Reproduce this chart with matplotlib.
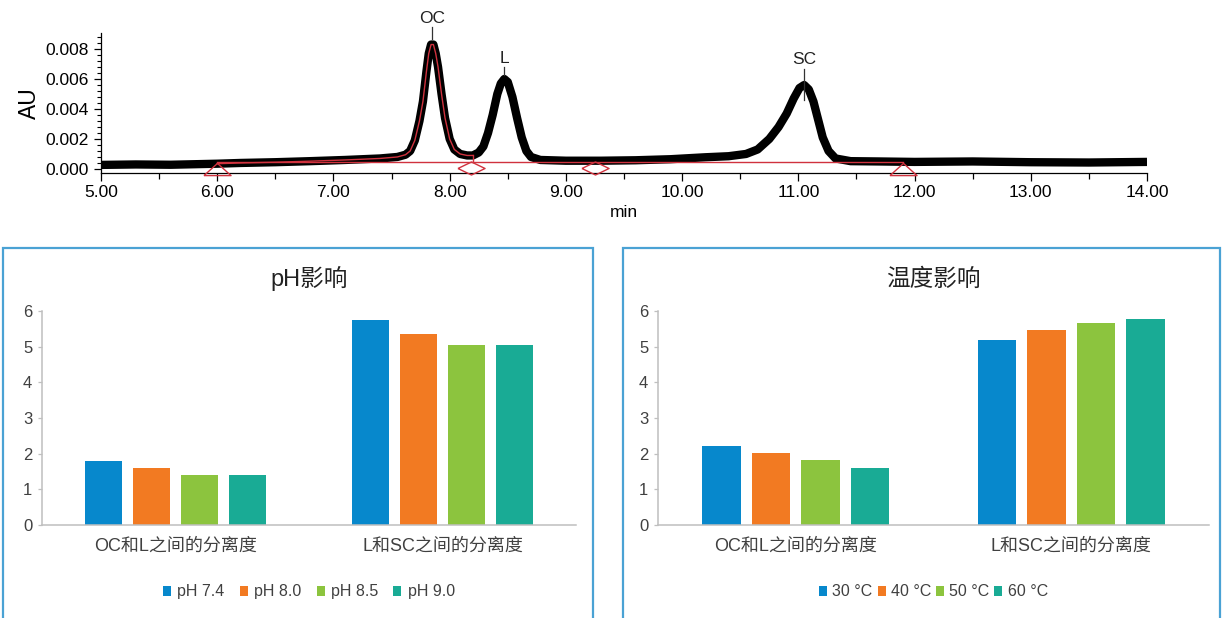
import matplotlib
matplotlib.use("Agg")
import matplotlib.pyplot as plt
import numpy as np
from matplotlib.patches import Rectangle
from matplotlib.path import Path
from matplotlib.ticker import MultipleLocator, FormatStrFormatter

plt.rcParams['font.family'] = ['Liberation Sans', 'Noto Sans CJK SC']

# ---- chromatogram ----
t_min = [5.00, 5.30, 5.60, 6.00, 6.20, 6.50, 6.80, 7.10, 7.40, 7.55, 7.62, 7.66,
         7.70, 7.74, 7.77, 7.80, 7.82, 7.84, 7.86, 7.88, 7.90, 7.93, 7.96, 8.00, 8.04,
         8.09, 8.15, 8.20, 8.25, 8.29, 8.33, 8.37, 8.41, 8.44, 8.47, 8.50, 8.54,
         8.58, 8.62, 8.66, 8.70, 8.78, 9.00, 9.30, 9.60, 9.90, 10.20, 10.40, 10.55,
         10.65, 10.75, 10.83, 10.90, 10.96, 11.01, 11.05, 11.09, 11.13, 11.17, 11.21,
         11.26, 11.32, 11.45, 11.70, 12.00, 12.50, 13.00, 13.50, 14.00]
au = [0.00027, 0.00030, 0.00028, 0.00035, 0.00040, 0.00045, 0.00052, 0.00060, 0.00070,
      0.00080, 0.00095, 0.0012, 0.0019, 0.0032, 0.0045, 0.0065, 0.0077, 0.0083, 0.0083,
      0.0077, 0.0068, 0.0050, 0.0034, 0.0020, 0.0013, 0.0010, 0.0009, 0.0009, 0.0011,
      0.0015, 0.0024, 0.0036, 0.0050, 0.0057, 0.0060, 0.0058, 0.0048, 0.0034, 0.0021,
      0.0012, 0.0008, 0.0006, 0.00055, 0.00055, 0.00058, 0.00065, 0.00078, 0.00085,
      0.0010, 0.0013, 0.0020, 0.0028, 0.0037, 0.0047, 0.0054, 0.0056, 0.0053, 0.0045,
      0.0033, 0.0021, 0.0012, 0.0007, 0.00052, 0.00050, 0.00047, 0.00050, 0.00045,
      0.00043, 0.00047]

peak_names = ['OC', 'L', 'SC']
peak_times = [7.85, 8.47, 11.05]
peak_tick_top = [0.00947, 0.0068, 0.0067]
peak_tick_bottom = [0.00867, 0.0063, 0.0046]

integ_start, integ_end = 6.00, 8.20
baseline_au = 0.00045
tri_times = [6.00, 11.90]
dia_times = [8.18, 9.25]

# ---- resolution bar charts ----
categories = ['OC和L之间的分离度', 'L和SC之间的分离度']
ph_labels = ['pH 7.4', 'pH 8.0', 'pH 8.5', 'pH 9.0']
ph_values = [[1.80, 5.76], [1.60, 5.35], [1.40, 5.06], [1.40, 5.06]]
temp_labels = ['30 °C', '40 °C', '50 °C', '60 °C']
temp_values = [[2.21, 5.18], [2.01, 5.47], [1.81, 5.67], [1.60, 5.77]]

bar_colors = ['#0788CC', '#F27A22', '#8CC43E', '#19AB95']
red = '#D0323E'
txt = '#404040'

W, H = 1226, 618
fig = plt.figure(figsize=(W / 100, H / 100), dpi=100)


def fx(px):
    return px / W


def fy(px):
    return 1 - px / H


# top chromatogram
ax = fig.add_axes([fx(101), fy(173), fx(1147) - fx(101), fy(33) - fy(173)])
ax.plot(t_min, au, color='black', lw=6, solid_joinstyle='round', solid_capstyle='butt', zorder=2)

t_arr = np.array(t_min)
au_arr = np.array(au)
m = (t_arr >= integ_start) & (t_arr <= integ_end)
ax.plot(t_arr[m], au_arr[m], color=red, lw=1.0, zorder=3)
ax.plot([t_arr[m][-1], t_arr[m][-1]], [au_arr[m][-1], baseline_au], color=red, lw=1.0, zorder=3)
ax.plot([tri_times[0], tri_times[-1]], [baseline_au, baseline_au], color=red, lw=1.0, zorder=3)

tri = Path([(-1, -0.45), (1, -0.45), (0, 0.45), (-1, -0.45)])
dia = Path([(-1, 0), (0, 0.48), (1, 0), (0, -0.48), (-1, 0)])
ax.plot(tri_times, [0.0] * len(tri_times), ls='none', marker=tri, ms=19.5,
        mfc='none', mec=red, mew=1.0, zorder=4, clip_on=False)
ax.plot(dia_times, [0.00005] * len(dia_times), ls='none', marker=dia, ms=19.5,
        mfc='none', mec=red, mew=1.0, zorder=4, clip_on=False)

for name, t, top, bot in zip(peak_names, peak_times, peak_tick_top, peak_tick_bottom):
    ax.plot([t, t], [bot, top], color='#333333', lw=0.9, zorder=5, clip_on=False)
    ax.text(t, top + 0.0003, name, ha='center', va='baseline', fontsize=12.5,
            color='#222222', clip_on=False)

ax.set_xlim(5, 14)
ax.set_ylim(-0.00027, 0.00907)
ax.xaxis.set_major_locator(MultipleLocator(1))
ax.xaxis.set_minor_locator(MultipleLocator(0.5))
ax.xaxis.set_major_formatter(FormatStrFormatter('%.2f'))
ax.set_yticks([0, 0.002, 0.004, 0.006, 0.008])
ax.yaxis.set_minor_locator(MultipleLocator(0.0004))
ax.yaxis.set_major_formatter(FormatStrFormatter('%.3f'))
ax.tick_params(axis='x', which='major', direction='out', length=6, width=0.9, labelsize=12.5, pad=3)
ax.tick_params(axis='x', which='minor', direction='out', length=4, width=0.9)
ax.tick_params(axis='y', which='major', direction='out', length=5, width=0.9, labelsize=12.5, pad=4)
ax.tick_params(axis='y', which='minor', direction='out', length=3, width=0.8)
ax.spines['top'].set_visible(False)
ax.spines['right'].set_visible(False)
ax.spines['left'].set_linewidth(0.9)
ax.spines['bottom'].set_linewidth(0.9)
ax.set_xlabel('min', fontsize=12.5, labelpad=3)
ax.set_ylabel('AU', fontsize=16.5, labelpad=3)

# panel frames
for x0, x1 in [(3, 593), (623, 1220)]:
    fig.add_artist(Rectangle((fx(x0), fy(622)), fx(x1) - fx(x0), fy(248) - fy(622),
                             transform=fig.transFigure, fill=False,
                             edgecolor='#4AA2D4', lw=1.6, clip_on=False))


def bar_panel(rect, title, labels, values, legend_kw):
    axb = fig.add_axes(rect)
    x = np.arange(len(categories))
    offsets = [-0.27, -0.09, 0.09, 0.27]
    for lab, vals, off, c in zip(labels, values, offsets, bar_colors):
        axb.bar(x + off, vals, width=0.14, color=c, label=lab, zorder=2)
    axb.set_xlim(-0.5, 1.5)
    axb.set_ylim(0, 6)
    axb.set_yticks(range(7))
    axb.set_xticks(x)
    axb.set_xticklabels(categories, fontsize=13, color=txt)
    axb.tick_params(axis='x', length=0, pad=9)
    axb.tick_params(axis='y', length=3, width=0.9, color='#BFBFBF', labelsize=12,
                    labelcolor=txt, pad=4)
    for s in ['top', 'right']:
        axb.spines[s].set_visible(False)
    for s in ['left', 'bottom']:
        axb.spines[s].set_color('#BFBFBF')
        axb.spines[s].set_linewidth(1.1)
    axb.set_title(title, fontsize=17, color='#222222', pad=18)
    leg = axb.legend(loc='center', bbox_to_anchor=(0.5, -0.313), ncol=4, frameon=False,
                     fontsize=11.5, handlelength=0.5, handleheight=0.65, **legend_kw)
    for t in leg.get_texts():
        t.set_color(txt)
    return axb


bar_panel([fx(42), fy(525), fx(576) - fx(42), fy(311) - fy(525)], 'pH影响',
          ph_labels, ph_values, dict(handletextpad=0.4, columnspacing=0.95))
bar_panel([fx(658), fy(525), fx(1209) - fx(658), fy(311) - fy(525)], '温度影响',
          temp_labels, temp_values, dict(handletextpad=0.33, columnspacing=0.3))

fig.savefig('out.png', dpi=100, facecolor='white')
